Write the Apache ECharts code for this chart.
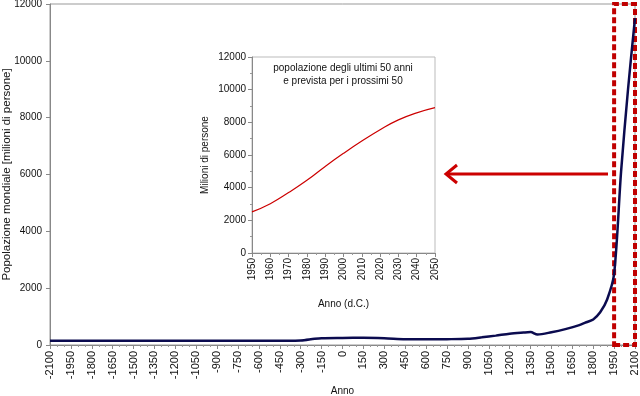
<!DOCTYPE html>
<html>
<head>
<meta charset="utf-8">
<script src="https://cdn.jsdelivr.net/npm/echarts@6/dist/echarts.min.js"></script>
<style>
  html, body { margin: 0; padding: 0; background: #fff; }
  #chart { width: 640px; height: 396px; }
</style>
</head>
<body>
<div id="chart"></div>
<script>
// popolazione mondiale (milioni)
var anni = [-2100, -1500, -1000, -500, -400, -300, -200, -150, 0, 150, 300, 450, 600, 750, 900,
            1000, 1100, 1200, 1300, 1350, 1400, 1500, 1600, 1700, 1750, 1800, 1850, 1900, 1950,
            2000, 2050, 2100];
var popolazione = [150, 150, 150, 150, 150, 160, 220, 240, 250, 257, 240, 205, 200, 205, 220,
                   270, 330, 400, 440, 455, 370, 450, 560, 700, 800, 900, 1150, 1600, 2500,
                   6100, 9000, 11500];

// riquadro: ultimi 50 anni e prossimi 50
var anniInset = [1950, 1960, 1970, 1980, 1990, 2000, 2010, 2020, 2030, 2040, 2050];
var popInset = [2520, 3020, 3700, 4450, 5300, 6100, 6850, 7550, 8150, 8580, 8900];

var evidenza = [1950, 2100];

var chart = echarts.init(document.getElementById('chart'));

var font = 'Liberation Sans, Arial, sans-serif';
var txt = { color: '#111', fontFamily: font, fontSize: 10 };
function plain(v) { return String(v); }
function lbl(extra) {
    return Object.assign({ formatter: plain }, txt, extra);
}

function zip(a, b) {
    return a.map(function (v, i) { return [v, b[i]]; });
}

var option = {
    animation: false,
    backgroundColor: '#fff',
    textStyle: { fontFamily: font },
    title: {
        text: 'popolazione degli ultimi 50 anni\ne prevista per i prossimi 50',
        left: 343,
        top: 62,
        padding: 0,
        textAlign: 'center',
        textStyle: { color: '#111', fontFamily: font, fontSize: 10, fontWeight: 'normal', lineHeight: 13 }
    },
    grid: [
        { left: 50, right: 5, top: 4, bottom: 51, containLabel: false, outerBoundsMode: 'none',
          show: true, borderColor: '#999', borderWidth: 1 },
        { left: 252, right: 205, top: 57, bottom: 143, containLabel: false, outerBoundsMode: 'none',
          show: true, backgroundColor: '#fff', borderColor: '#bbb', borderWidth: 1, z: 5 }
    ],
    xAxis: [
        {
            gridIndex: 0, type: 'value', min: -2100, max: 2100, interval: 150,
            name: 'Anno', nameLocation: 'middle', nameGap: 41, nameMoveOverlap: false, nameTextStyle: txt,
            axisLine: { onZero: false, lineStyle: { color: '#888' } },
            axisTick: { lineStyle: { color: '#888' }, length: 4 },
            minorTick: { show: true, splitNumber: 3, length: 2, lineStyle: { color: '#999' } },
            axisLabel: lbl({ rotate: 90, margin: 6, fontSize: 11 }),
            splitLine: { show: false }
        },
        {
            gridIndex: 1, type: 'value', min: 1950, max: 2050, interval: 10,
            name: 'Anno (d.C.)', nameLocation: 'middle', nameGap: 46, nameMoveOverlap: false, nameTextStyle: txt,
            axisLine: { onZero: false, lineStyle: { color: '#888' } },
            axisTick: { lineStyle: { color: '#888' }, length: 4 },
            minorTick: { show: true, splitNumber: 2, length: 2, lineStyle: { color: '#999' } },
            axisLabel: lbl({ rotate: 90, margin: 5 }),
            splitLine: { show: false },
            z: 6
        }
    ],
    yAxis: [
        {
            gridIndex: 0, type: 'value', min: 0, max: 12000, interval: 2000,
            name: 'Popolazione mondiale [milioni di persone]', nameLocation: 'middle', nameGap: 37,
            nameMoveOverlap: false, nameTextStyle: Object.assign({}, txt, { fontSize: 11.5 }),
            axisLine: { show: true, onZero: false, lineStyle: { color: '#888' } },
            axisTick: { show: true, lineStyle: { color: '#888' }, length: 4 },
            axisLabel: lbl({ margin: 8 }),
            splitLine: { show: false }
        },
        {
            gridIndex: 1, type: 'value', min: 0, max: 12000, interval: 2000,
            name: 'Milioni di persone', nameLocation: 'middle', nameGap: 42,
            nameMoveOverlap: false, nameTextStyle: txt,
            axisLine: { show: true, onZero: false, lineStyle: { color: '#888' } },
            axisTick: { show: true, lineStyle: { color: '#888' }, length: 4 },
            minorTick: { show: true, splitNumber: 2, length: 2, lineStyle: { color: '#999' } },
            axisLabel: lbl({ margin: 6 }),
            splitLine: { show: false },
            z: 6
        }
    ],
    series: [
        {
            name: 'Popolazione mondiale',
            type: 'line',
            xAxisIndex: 0, yAxisIndex: 0,
            data: zip(anni, popolazione),
            smooth: 0.3,
            showSymbol: false,
            clip: false,
            lineStyle: { color: '#0b0b4f', width: 2.5 },
            markArea: {
                silent: true,
                itemStyle: { color: 'rgba(0,0,0,0)', borderColor: '#c00000', borderWidth: 4, borderType: [6, 3] },
                data: [[{ xAxis: evidenza[0], yAxis: 0 }, { xAxis: evidenza[1], yAxis: 12000 }]]
            },
            z: 3
        },
        {
            name: 'Ultimi 50 anni',
            type: 'line',
            xAxisIndex: 1, yAxisIndex: 1,
            data: zip(anniInset, popInset),
            smooth: true,
            showSymbol: false,
            lineStyle: { color: '#cc0000', width: 1.2 },
            z: 7
        }
    ],
    graphic: [
        {
            type: 'group', z: 10,
            children: [
                { type: 'line', shape: { x1: 608, y1: 174, x2: 446, y2: 174 }, style: { stroke: '#cc0000', lineWidth: 3 } },
                { type: 'polyline', shape: { points: [[457, 165], [446, 174], [457, 183]] }, style: { stroke: '#cc0000', lineWidth: 3, fill: null } }
            ]
        }
    ]
};

chart.setOption(option);
</script>
</body>
</html>
